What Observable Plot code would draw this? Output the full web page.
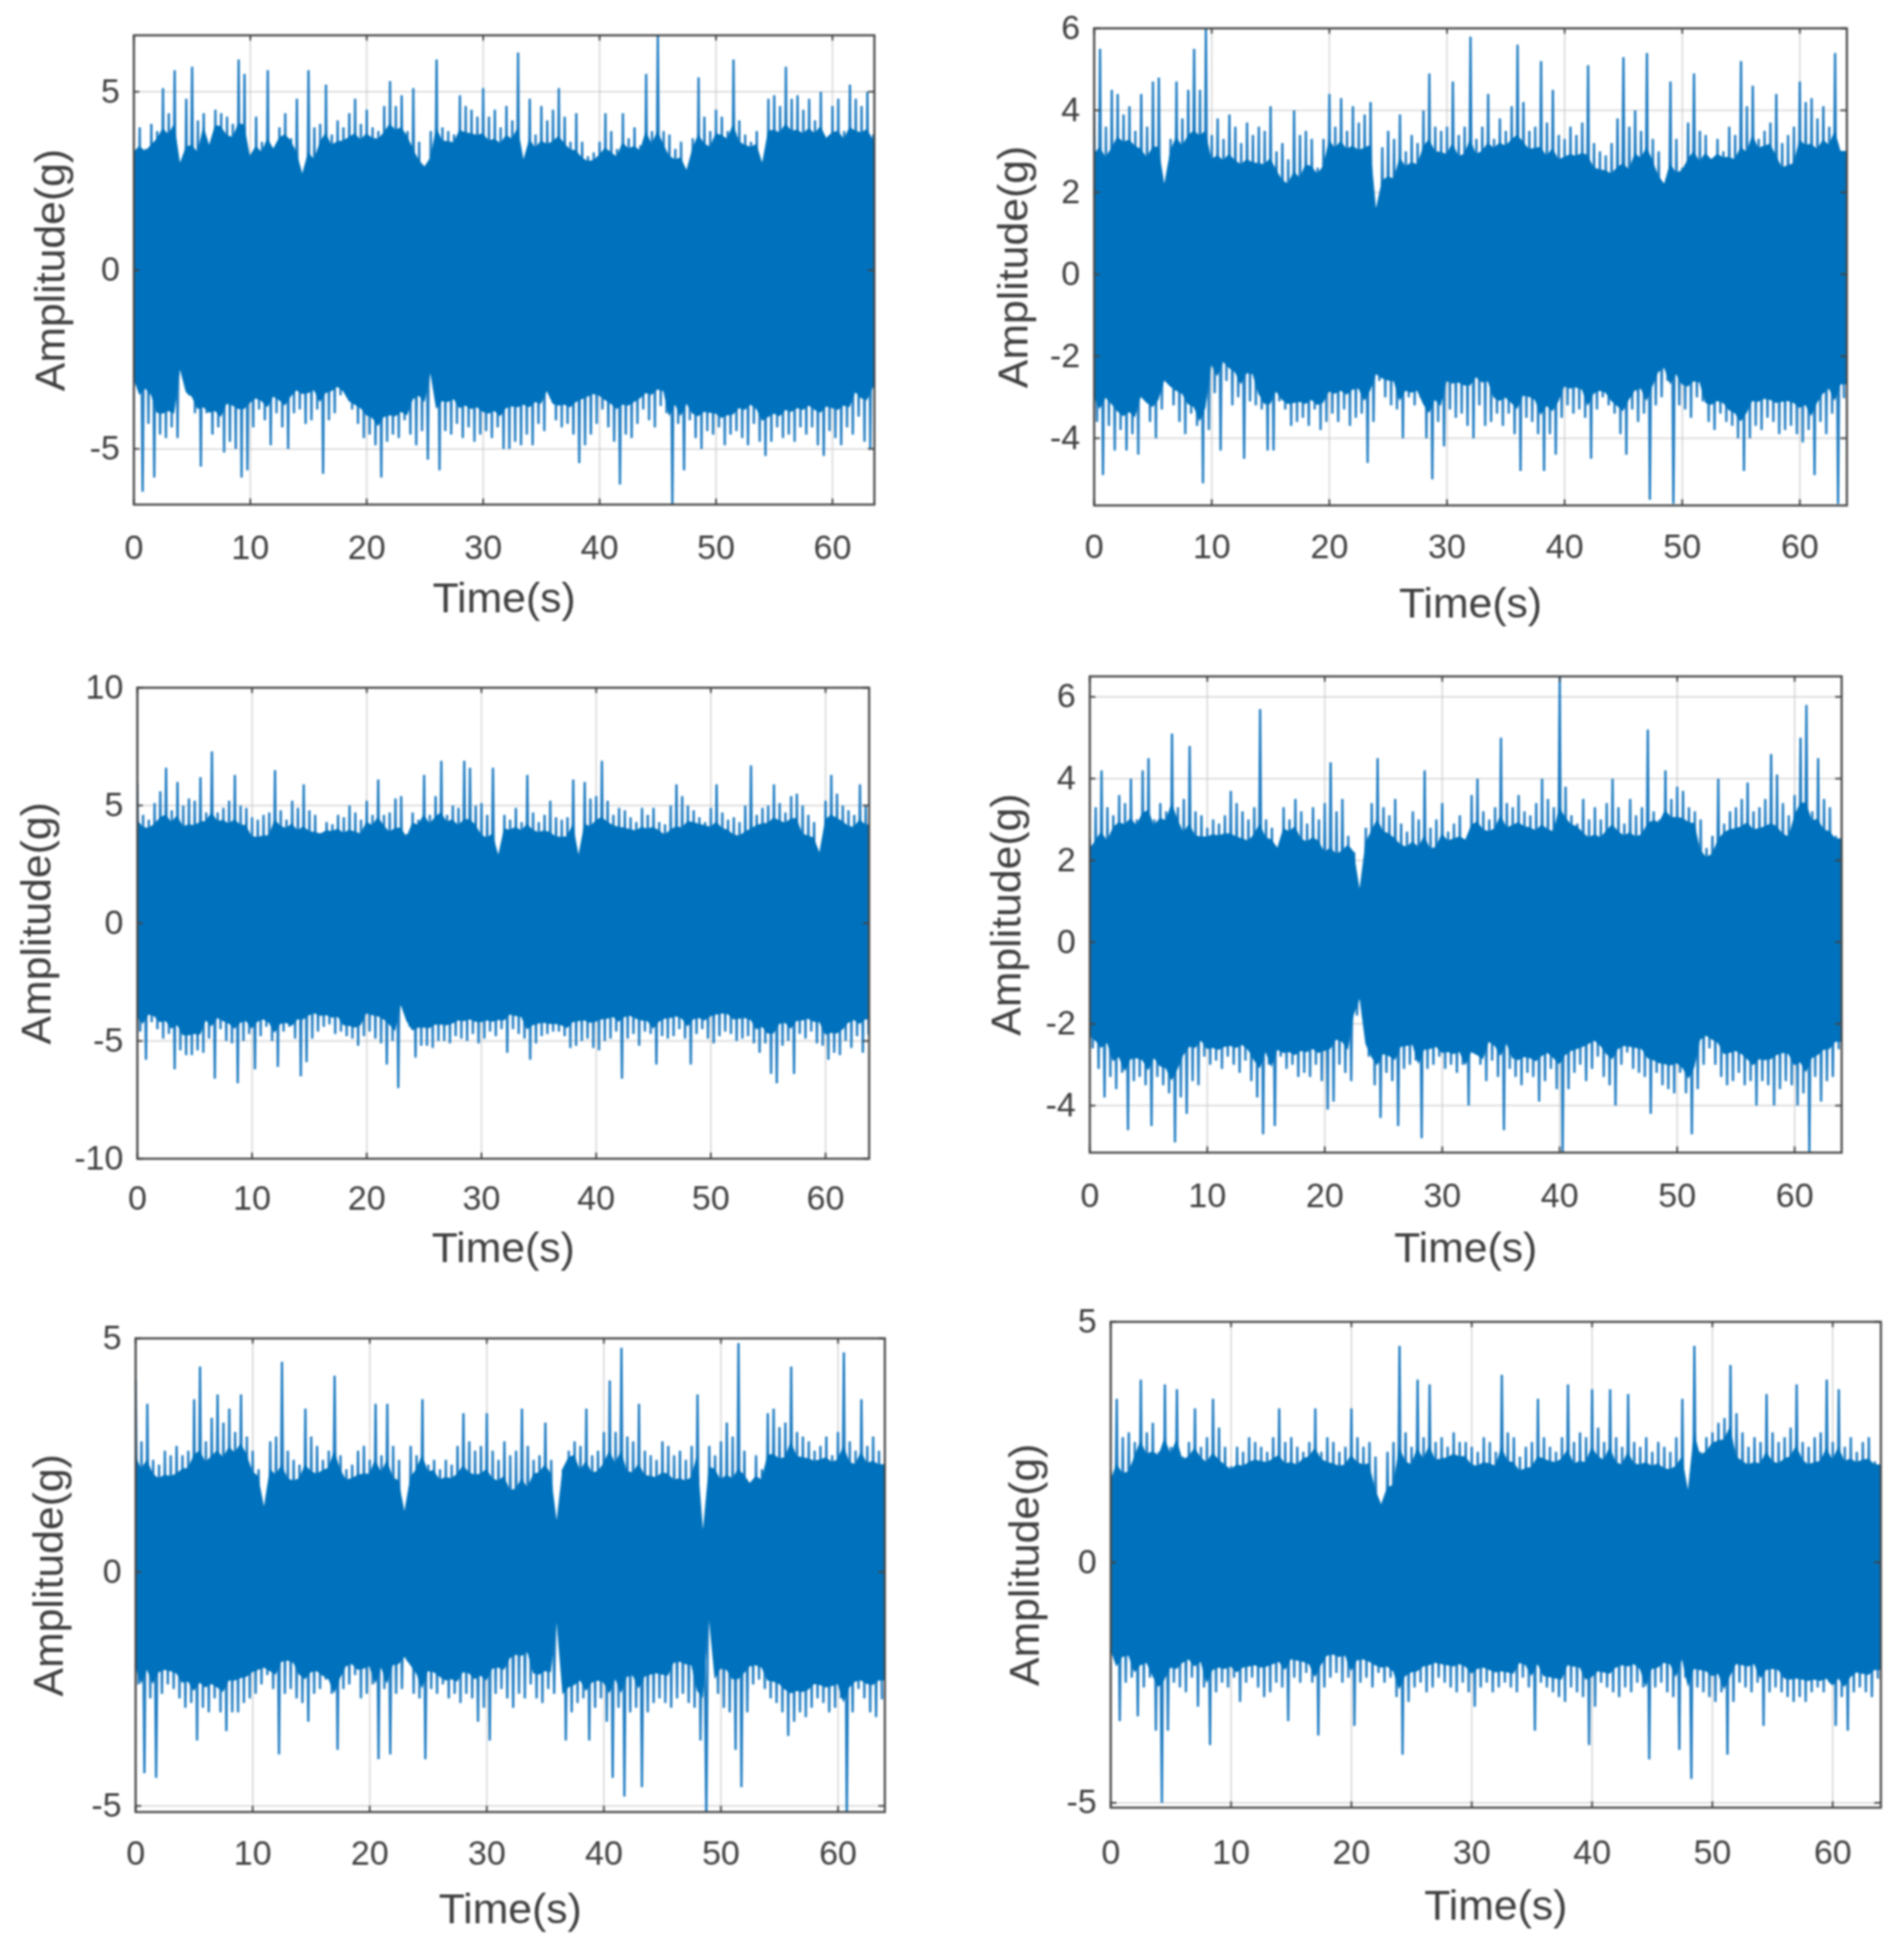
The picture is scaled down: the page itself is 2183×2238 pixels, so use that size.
<!DOCTYPE html>
<html><head><meta charset="utf-8">
<script src="https://cdn.jsdelivr.net/npm/d3@7"></script>
<script src="https://cdn.jsdelivr.net/npm/@observablehq/plot@0.6"></script>
<style>
html,body{margin:0;padding:0;background:#fff;}
#page{position:relative;width:2183px;height:2238px;overflow:hidden;}
#page svg{position:absolute;overflow:visible;filter:blur(0.8px);}
</style></head><body><div id="page"></div>
<script>
// Peak values, one every 0.5 s
const peaksUp1=[3.3,4.0,3.4,4.1,3.9,5.1,4.4,5.6,3.0,4.8,5.7,4.2,4.4,3.5,4.5,4.4,4.3,4.1,5.9,5.5,
3.2,4.3,3.6,5.6,3.4,4.0,4.4,3.7,4.8,2.7,5.6,4.0,4.1,5.2,3.8,4.2,4.0,4.4,4.8,4.1,
4.5,4.0,3.9,4.6,5.3,4.6,4.9,3.9,5.1,3.6,2.9,3.9,5.9,4.0,3.9,3.8,4.9,4.6,4.5,4.3,
5.1,4.3,4.5,4.0,4.6,4.2,6.1,3.1,4.8,3.8,4.6,4.2,4.5,5.1,4.3,3.6,4.4,3.6,3.2,3.3,
3.6,4.4,3.9,3.4,4.4,3.7,4.0,3.5,5.5,3.9,6.6,3.9,3.8,3.4,3.6,2.8,3.7,5.4,4.3,3.9,
4.5,4.3,3.9,5.9,4.2,3.8,3.6,3.9,3.0,4.8,4.9,4.6,5.7,4.8,4.9,4.5,4.8,4.2,5.0,3.7,
4.6,4.8,3.9,5.2,4.8,4.6,5.0,3.8];
const peaksDown1=[-3.2,-6.2,-4.3,-5.8,-4.6,-4.7,-4.4,-4.7,-2.8,-3.5,-4.0,-5.5,-4.0,-4.6,-4.4,-5.1,-4.8,-5.0,-5.8,-5.6,
-4.4,-3.9,-4.2,-4.9,-4.0,-4.4,-5.0,-4.0,-3.9,-4.3,-4.2,-3.9,-5.7,-4.2,-4.0,-3.5,-3.4,-3.9,-4.3,-4.7,
-4.6,-4.9,-5.8,-4.8,-4.6,-4.7,-4.2,-4.6,-4.9,-4.5,-5.3,-2.9,-5.6,-4.5,-4.6,-4.3,-4.7,-4.4,-4.8,-4.6,
-4.5,-4.7,-4.4,-5.0,-5.0,-4.8,-4.9,-4.6,-4.9,-4.3,-4.5,-3.4,-4.2,-4.4,-4.3,-4.6,-5.4,-4.9,-4.6,-4.3,
-3.9,-4.4,-4.8,-6.0,-4.6,-4.7,-4.3,-3.9,-4.2,-4.4,-3.8,-4.0,-6.6,-4.3,-5.6,-4.2,-4.7,-5.0,-4.5,-4.6,
-4.4,-4.9,-4.6,-4.5,-4.7,-4.9,-4.3,-4.8,-5.2,-4.8,-4.4,-4.7,-4.6,-4.8,-4.4,-4.6,-4.4,-4.9,-5.2,-4.5,
-4.7,-4.9,-4.4,-4.6,-4.1,-4.8,-5.0,-3.6];
const peaksUp2=[3.9,5.5,3.6,4.5,4.4,3.9,4.1,3.5,4.4,3.6,4.7,4.8,2.2,3.3,4.7,3.8,4.5,5.5,4.5,6.0,
3.4,3.8,3.3,3.9,3.6,3.2,3.7,3.4,3.6,3.5,4.1,3.0,3.2,2.8,4.0,3.4,3.5,3.3,2.6,3.3,
4.4,3.6,4.3,3.5,4.1,3.7,3.9,4.2,1.6,3.1,3.5,3.3,3.9,3.0,3.4,3.2,4.0,4.9,3.6,3.5,
3.6,4.7,3.4,3.6,5.8,3.3,3.6,4.4,3.3,3.8,3.5,4.1,5.6,4.2,3.5,3.6,5.2,3.7,4.5,3.4,
3.3,3.6,3.4,3.7,5.1,3.2,3.0,2.9,3.2,3.8,5.3,3.6,4.0,3.5,5.4,3.3,3.0,2.2,4.7,3.3,
2.6,3.7,4.9,3.5,3.4,2.8,3.3,3.0,3.6,3.4,5.2,4.1,4.6,3.3,3.5,3.7,4.4,3.2,3.4,3.6,
4.7,4.2,4.3,3.8,4.1,3.6,5.4,3.0];
const peaksDown2=[-3.6,-4.9,-3.7,-4.3,-3.8,-4.3,-3.9,-4.4,-3.0,-3.6,-4.0,-3.3,-2.6,-3.2,-3.6,-3.9,-3.4,-3.7,-5.1,-3.8,
-2.9,-4.3,-2.6,-3.2,-3.0,-4.5,-3.1,-3.2,-3.3,-4.3,-4.3,-3.1,-3.3,-3.7,-3.6,-3.5,-3.7,-3.3,-3.8,-3.6,
-3.4,-3.6,-3.3,-3.7,-3.5,-3.4,-4.6,-3.6,-2.6,-3.0,-3.2,-3.3,-4.0,-3.0,-3.2,-3.0,-4.0,-5.0,-3.6,-4.2,
-3.3,-3.5,-3.4,-3.7,-4.0,-3.2,-3.7,-3.6,-3.4,-3.7,-3.4,-3.9,-4.8,-3.5,-3.6,-3.9,-4.8,-3.9,-4.4,-3.5,
-3.2,-3.4,-3.3,-3.5,-4.5,-3.3,-3.0,-3.2,-3.4,-3.9,-4.4,-3.3,-3.6,-3.4,-5.5,-3.2,-3.0,-2.6,-5.6,-3.2,
-3.3,-3.5,-3.0,-3.1,-3.6,-3.8,-3.4,-3.6,-3.7,-4.0,-4.8,-4.0,-3.7,-3.8,-3.5,-3.6,-3.9,-3.8,-3.7,-3.9,
-4.1,-3.8,-4.9,-3.6,-3.9,-3.4,-5.6,-3.0];
const peaksUp3=[5.9,4.6,4.4,5.1,5.6,6.6,4.8,6.0,5.0,5.3,5.2,6.2,4.7,7.3,4.7,4.9,5.2,6.3,5.0,4.9,
4.5,4.4,4.6,4.7,6.5,4.8,4.4,5.2,4.9,5.9,4.8,4.6,3.8,4.3,4.2,4.6,4.5,5.0,4.7,4.4,
5.2,4.6,6.1,4.6,4.7,5.3,5.4,3.8,4.7,4.4,6.3,4.6,5.4,6.9,4.6,5.0,4.9,6.9,6.6,5.0,
5.1,4.6,6.6,2.9,4.6,4.4,4.9,4.3,6.3,4.7,4.3,4.6,5.2,4.5,4.4,4.5,6.1,2.9,6.0,5.3,
5.4,6.9,5.2,4.6,4.9,4.8,4.5,4.3,4.9,4.6,4.9,4.3,4.2,5.0,5.9,5.4,5.0,4.8,4.5,4.3,
4.9,5.9,4.7,4.4,4.5,4.3,5.0,6.7,4.6,4.9,5.0,5.9,5.1,4.7,5.4,5.5,5.0,4.6,4.3,3.0,
5.2,6.3,5.5,5.0,4.8,4.6,5.9,5.0];
const peaksDown3=[-4.6,-5.8,-4.2,-4.5,-4.9,-4.7,-6.2,-5.4,-5.6,-5.6,-5.4,-5.5,-4.9,-6.6,-4.5,-5.0,-5.1,-6.8,-5.0,-4.7,
-6.2,-4.8,-4.4,-5.0,-6.1,-4.6,-4.4,-4.9,-6.5,-5.9,-4.9,-4.6,-4.4,-4.3,-4.7,-4.6,-4.8,-4.9,-5.2,-4.8,
-4.6,-4.9,-5.1,-6.0,-5.0,-7.0,-3.5,-4.4,-5.7,-5.2,-5.2,-5.3,-5.0,-5.0,-5.1,-4.8,-4.9,-5.0,-4.7,-5.1,
-4.9,-4.6,-4.8,-4.5,-5.5,-4.5,-4.7,-4.9,-5.8,-5.1,-4.8,-4.7,-4.6,-4.6,-4.8,-5.3,-5.2,-5.0,-4.9,-5.3,
-5.4,-5.0,-4.9,-4.6,-6.6,-4.9,-4.7,-5.2,-4.6,-4.7,-6.0,-4.8,-4.9,-4.8,-4.5,-4.9,-6.0,-4.7,-4.5,-4.9,
-5.1,-4.8,-4.6,-4.7,-5.0,-4.9,-4.8,-5.1,-5.5,-5.1,-6.4,-6.8,-5.2,-5.0,-6.4,-4.7,-4.9,-4.6,-5.1,-5.2,
-5.8,-5.5,-5.6,-5.0,-5.3,-4.8,-5.5,-4.7];
const peaksUp4=[2.5,3.3,4.2,3.3,3.1,3.6,3.4,4.0,3.0,4.2,4.5,3.0,3.4,3.2,5.1,3.3,3.5,4.8,3.2,3.1,
2.8,3.0,2.9,3.1,3.7,3.4,3.2,3.0,3.3,5.7,3.0,2.8,2.3,3.3,3.0,3.5,3.2,2.9,3.3,3.0,
3.4,4.4,3.2,3.5,2.6,2.2,1.3,2.8,3.4,4.5,3.3,3.1,3.5,2.9,2.7,3.2,3.0,4.2,2.8,3.0,
3.4,2.7,2.9,3.1,2.5,3.6,4.0,3.2,3.0,3.3,5.0,3.4,3.3,3.6,3.2,3.1,3.4,4.0,3.5,3.3,
6.5,3.8,3.1,2.9,3.5,3.0,3.3,3.0,3.4,4.0,3.3,2.9,3.5,3.1,3.3,5.2,3.2,3.0,4.2,3.5,
3.8,3.7,3.3,3.2,3.0,2.3,2.6,4.0,2.9,3.2,3.3,3.5,3.9,3.2,3.3,3.5,4.6,4.1,3.4,3.1,
3.6,5.0,5.8,3.2,4.5,3.5,3.3,2.6];
const peaksDown4=[-2.6,-3.1,-3.8,-3.3,-3.6,-3.2,-4.6,-3.4,-3.3,-3.5,-4.5,-3.3,-3.5,-3.7,-4.9,-3.8,-4.2,-3.4,-3.5,-2.8,
-3.0,-2.9,-3.1,-2.8,-3.0,-3.2,-2.9,-3.4,-3.8,-4.7,-3.0,-4.5,-2.8,-3.1,-3.0,-3.3,-3.2,-3.3,-3.0,-3.4,
-4.1,-3.9,-3.0,-3.2,-3.4,-1.8,-1.4,-2.8,-3.5,-4.3,-3.2,-3.4,-4.5,-3.1,-3.0,-2.9,-4.8,-3.1,-3.0,-2.8,
-3.1,-3.0,-3.2,-3.0,-4.0,-2.7,-3.0,-3.4,-2.9,-3.3,-4.6,-3.1,-3.3,-3.5,-3.2,-3.3,-3.9,-3.4,-3.1,-3.6,
-5.2,-3.6,-3.2,-3.0,-3.4,-3.1,-2.8,-3.3,-3.5,-4.0,-3.0,-2.7,-3.1,-3.2,-3.3,-4.2,-3.2,-3.5,-3.6,-3.7,
-3.2,-3.7,-4.7,-3.6,-3.0,-2.6,-3.0,-3.3,-3.5,-3.4,-3.2,-3.5,-3.4,-4.0,-3.4,-3.5,-4.0,-3.6,-3.4,-3.5,
-4.0,-3.7,-5.2,-3.3,-3.9,-3.4,-3.3,-2.6];
const peaksUp5=[4.1,2.8,3.6,2.4,2.3,2.6,2.5,2.7,2.5,2.6,3.7,4.4,2.8,3.3,3.8,3.2,3.5,3.0,3.8,2.9,
2.6,2.2,1.4,2.8,2.9,4.5,2.6,2.4,2.3,3.5,2.9,2.7,2.4,2.6,4.2,2.5,2.2,2.3,2.6,2.7,
2.4,3.6,2.5,3.6,2.7,2.4,1.3,2.7,2.5,3.7,2.3,2.4,2.2,2.4,2.3,2.7,3.4,2.8,2.6,2.7,
3.4,2.6,2.4,2.8,2.5,2.6,3.5,2.7,2.4,2.5,3.2,2.4,1.1,2.2,2.6,2.8,2.7,3.5,2.5,2.6,
3.0,4.1,3.0,4.8,2.9,2.8,3.6,2.6,2.5,2.4,2.8,2.7,2.5,2.6,2.4,2.7,3.8,0.9,2.7,2.5,
2.8,3.2,2.9,4.9,2.6,1.9,2.5,2.2,3.4,3.5,3.1,3.2,4.4,3.0,2.9,2.8,2.6,2.7,2.9,2.5,
3.0,4.7,2.8,2.6,3.7,2.7,2.9,2.6];
const peaksDown5=[-2.4,-4.3,-2.7,-4.4,-2.6,-2.4,-2.5,-2.7,-2.9,-2.8,-3.6,-2.9,-3.0,-2.7,-3.0,-3.4,-3.0,-3.0,-2.8,-2.7,
-2.6,-2.4,-2.2,-2.5,-3.9,-2.6,-2.5,-2.7,-2.8,-3.2,-2.6,-2.5,-2.3,-2.6,-3.8,-2.5,-2.4,-2.2,-2.7,-2.6,
-2.4,-4.0,-2.5,-3.9,-2.6,-2.5,-1.9,-2.6,-2.7,-4.0,-2.5,-2.6,-2.4,-2.7,-2.6,-2.8,-2.6,-2.7,-3.2,-2.9,
-3.6,-2.6,-2.5,-2.7,-2.9,-2.6,-2.7,-2.4,-2.7,-2.8,-2.5,-2.6,-1.1,-3.6,-3.0,-2.8,-2.7,-3.6,-2.9,-2.7,
-3.2,-4.4,-2.9,-4.8,-3.0,-2.9,-4.6,-3.0,-2.8,-2.7,-2.8,-2.9,-2.7,-2.6,-2.8,-2.9,-3.6,-5.3,-1.0,-2.6,
-2.9,-3.0,-3.8,-4.6,-3.0,-2.4,-2.3,-2.5,-2.7,-2.8,-3.0,-3.5,-3.2,-3.0,-3.1,-2.9,-2.7,-2.8,-3.0,-2.9,
-2.7,-5.3,-3.0,-2.5,-2.7,-3.0,-3.1,-2.7];
const peaksUp6=[1.9,3.4,2.6,2.7,2.5,3.8,2.7,2.9,2.3,3.7,2.4,3.6,2.2,2.5,3.2,2.4,2.6,3.4,2.8,2.4,
2.0,2.4,2.3,2.6,2.5,2.4,2.3,2.6,3.2,2.5,2.6,2.4,2.3,2.5,3.2,2.3,2.6,2.5,2.3,2.4,
3.2,2.6,2.4,2.5,2.2,1.2,2.3,2.5,4.5,2.7,2.4,3.8,2.6,3.7,2.5,2.6,2.4,2.7,2.5,2.5,
2.4,2.3,2.6,2.5,2.3,3.9,2.7,2.6,2.2,2.4,2.5,3.4,2.6,2.4,2.3,2.6,3.7,2.5,2.7,2.6,
3.6,2.8,2.5,3.6,2.6,2.4,3.5,2.5,2.4,2.6,2.3,2.5,2.4,2.3,2.6,3.4,1.5,4.5,2.3,2.6,
2.7,2.9,3.0,4.1,3.1,2.7,2.4,2.6,2.5,3.5,2.7,2.5,2.6,2.8,3.7,2.5,2.4,2.6,2.7,3.8,
2.5,3.6,2.4,2.6,2.3,2.5,2.6,2.1];
const peaksDown6=[-1.9,-3.3,-2.5,-2.4,-3.2,-2.6,-2.4,-3.5,-5.0,-3.5,-2.5,-2.6,-2.7,-2.4,-3.0,-2.6,-3.8,-2.7,-2.5,-2.6,
-2.4,-2.9,-2.5,-2.4,-2.6,-2.8,-2.7,-2.5,-2.6,-3.3,-2.4,-2.5,-2.3,-2.5,-3.6,-2.6,-2.4,-2.3,-2.5,-2.4,
-3.4,-2.5,-2.4,-2.6,-2.3,-2.5,-2.4,-2.8,-4.0,-2.9,-2.6,-2.5,-2.7,-2.6,-2.4,-2.5,-2.6,-2.7,-2.5,-2.7,
-3.0,-2.6,-2.5,-2.7,-2.6,-2.5,-2.6,-2.7,-2.4,-2.6,-3.5,-2.5,-2.6,-2.7,-2.8,-2.9,-2.6,-2.7,-2.8,-3.8,
-3.0,-2.5,-2.6,-2.7,-2.8,-2.6,-2.7,-2.5,-2.6,-4.1,-2.6,-2.5,-2.7,-2.8,-3.9,-2.4,-4.5,-2.6,-2.7,-2.8,
-2.9,-2.7,-4.0,-2.9,-2.5,-2.6,-2.7,-2.5,-3.4,-2.7,-2.6,-2.7,-2.8,-2.9,-2.8,-2.9,-2.7,-2.6,-2.7,-2.5,
-3.4,-2.8,-3.5,-2.7,-2.6,-2.7,-2.8,-2.4];

// Top of the solid body of each trace, one value every 2 s
const bodyUp1=[3.3,3.6,3.0,3.9,3.6,3.2,3.6,2.8,3.4,3.5,3.6,3.7,2.9,3.5,3.6,3.4,3.5,3.3,3.3,3.0,3.1,3.3,3.4,3.0,3.3,3.6,3.4,3.6,3.6,3.7,3.6,3.6];
const bodyDown1=[-3.0,-3.8,-3.4,-3.8,-3.4,-3.5,-3.4,-3.2,-3.2,-3.6,-3.9,-3.9,-3.2,-3.4,-3.6,-3.8,-3.5,-3.5,-3.6,-3.2,-3.4,-3.5,-3.2,-3.6,-3.8,-3.9,-3.6,-3.9,-3.7,-3.6,-3.6,-3.2];
const bodyUp2=[2.6,3.0,2.6,2.9,3.0,2.6,2.5,2.4,2.0,2.4,2.9,2.8,2.0,2.5,2.8,2.7,2.8,3.0,2.9,2.6,2.7,2.4,2.2,2.6,2.2,2.5,2.8,2.6,3.0,2.4,2.8,3.0];
const bodyDown2=[-2.8,-3.2,-3.0,-2.6,-3.1,-2.0,-2.2,-2.8,-3.0,-3.0,-2.7,-2.6,-2.4,-2.8,-2.9,-2.4,-2.3,-2.9,-2.8,-3.0,-2.6,-2.8,-3.0,-2.6,-2.2,-2.5,-3.0,-3.2,-2.9,-2.9,-3.0,-2.6];
const bodyUp3=[3.9,4.1,3.8,4.2,3.9,3.4,3.9,3.6,3.8,3.6,4.0,3.6,4.1,4.2,3.9,3.3,3.8,3.7,3.4,3.7,4.0,3.8,3.8,3.6,4.1,3.8,3.5,4.0,4.1,3.4,4.1,3.9];
const bodyDown3=[-3.8,-4.0,-4.5,-3.9,-4.0,-4.0,-4.2,-3.6,-3.8,-4.2,-3.6,-4.1,-4.2,-4.1,-3.9,-4.0,-3.7,-4.1,-4.2,-3.9,-3.8,-3.7,-4.0,-3.8,-3.9,-3.6,-3.8,-4.2,-4.0,-3.9,-4.4,-3.9];
const bodyUp4=[2.2,2.7,2.8,2.9,2.4,2.5,2.3,2.4,2.6,2.3,1.8,2.3,2.5,2.2,2.1,2.4,2.6,2.6,2.7,2.5,2.8,2.4,2.5,2.4,2.9,2.8,2.0,2.6,2.6,2.4,2.9,2.5];
const bodyDown4=[-2.2,-2.7,-2.7,-2.9,-2.3,-2.5,-2.4,-2.6,-2.6,-2.5,-2.2,-2.4,-2.6,-2.4,-2.5,-2.6,-2.7,-2.3,-2.7,-2.6,-2.5,-2.3,-2.5,-2.4,-2.8,-2.9,-2.2,-2.5,-2.7,-2.5,-2.7,-2.4];
const bodyUp5=[2.0,1.9,2.1,2.2,2.4,2.0,1.8,1.9,2.1,1.9,2.0,1.8,2.1,1.9,1.9,1.8,1.5,2.0,2.4,2.0,2.1,1.9,1.9,1.8,2.1,1.7,1.9,2.2,2.3,2.3,2.2,2.2];
const bodyDown5=[-1.9,-2.0,-2.2,-2.3,-2.1,-2.0,-1.7,-2.0,-2.2,-1.9,-1.9,-1.8,-2.0,-2.2,-2.0,-1.9,-1.5,-2.0,-2.3,-2.2,-2.1,-2.0,-2.0,-1.7,-2.2,-1.8,-1.9,-2.2,-2.4,-2.3,-2.3,-2.2];
const bodyUp6=[1.6,2.1,2.2,2.1,1.9,1.9,2.0,1.9,2.1,1.9,1.9,1.3,1.9,2.0,2.1,1.9,1.9,1.8,2.0,1.9,2.0,1.9,1.9,1.8,2.2,2.4,1.9,1.9,2.0,1.9,2.0,2.0];
const bodyDown6=[-1.8,-2.0,-2.1,-1.9,-2.1,-2.1,-2.0,-1.9,-2.0,-1.8,-1.9,-2.1,-2.2,-2.0,-2.0,-2.1,-2.2,-2.0,-2.3,-2.0,-2.2,-2.0,-2.1,-1.9,-2.1,-2.2,-2.0,-2.1,-2.3,-2.4,-2.3,-2.2];

const timeTicks=[0,10,20,30,40,50,60];
const ampTicks1=[-5,0,5], ampTicks2=[-4,-2,0,2,4,6], ampTicks3=[-10,-5,0,5,10], ampTicks4=[-4,-2,0,2,4,6], ampTicks5=[-5,0,5], ampTicks6=[-5,0,5];
const xLabel="Time(s)", yLabel="Amplitude(g)";
const peakStep=0.5, bodyStep=2;

const panels=[
 {up:peaksUp1,down:peaksDown1,bu:bodyUp1,bd:bodyDown1,ticks:ampTicks1,dom:[-6.56,6.58],xMax:63.6,l:153,r:1002,t:40,b:578,yl:-95,xl:123,tp:54},
 {up:peaksUp2,down:peaksDown2,bu:bodyUp2,bd:bodyDown2,ticks:ampTicks2,dom:[-5.64,6],xMax:64,l:1254,r:2117,t:32,b:579,yl:-92,xl:128,tp:52},
 {up:peaksUp3,down:peaksDown3,bu:bodyUp3,bd:bodyDown3,ticks:ampTicks3,dom:[-10,10],xMax:63.8,l:157,r:996,t:788,b:1328,yl:-115,xl:118,tp:50},
 {up:peaksUp4,down:peaksDown4,bu:bodyUp4,bd:bodyDown4,ticks:ampTicks4,dom:[-5.15,6.5],xMax:64,l:1249,r:2111,t:775,b:1321,yl:-95,xl:125,tp:54},
 {up:peaksUp5,down:peaksDown5,bu:bodyUp5,bd:bodyDown5,ticks:ampTicks5,dom:[-5.13,5],xMax:64,l:155,r:1014,t:1534,b:2077,yl:-99,xl:127,tp:52},
 {up:peaksUp6,down:peaksDown6,bu:bodyUp6,bd:bodyDown6,ticks:ampTicks6,dom:[-5.1,5],xMax:64,l:1273,r:2156,t:1515,b:2072,yl:-98,xl:128,tp:56}
];
const font='"Liberation Sans",Arial,sans-serif', ink="#404040", blue="#0072BD", ml=140, mr=16, mt=12, mb=150;
const page=document.getElementById("page");
for(const p of panels){
  const n=p.up.length;
  // the trace as one zigzag line (peak up, then peak down half a step later)
  const trace=[];
  p.up.forEach((u,i)=>{trace.push({t:i*peakStep,v:u});trace.push({t:i*peakStep+peakStep/2,v:p.down[i]});});
  // jagged edge of the solid body: the peaks, pulled in toward the body level
  const edge=p.up.map((u,i)=>{
    const k=Math.floor(i*peakStep/bodyStep), d=p.down[i], bu=p.bu[k], bd=p.bd[k];
    return {t:i*peakStep,
      eu:u<bu?u:bu+0.25*Math.min(u-bu,2),
      ed:d>bd?d:bd-0.25*Math.min(bd-d,2)};
  });
  edge.push({t:p.xMax,eu:edge[n-1].eu,ed:edge[n-1].ed});
  const span=p.dom[1]-p.dom[0], tick=span*0.012, xt=p.xMax*0.008;
  const fig=Plot.plot({
    width:p.r-p.l+ml+mr,height:p.b-p.t+mt+mb,
    marginLeft:ml,marginRight:mr,marginTop:mt,marginBottom:mb,
    style:{fontFamily:font,background:"transparent",overflow:"visible"},
    x:{domain:[0,p.xMax]},y:{domain:p.dom},
    marks:[
      Plot.gridX(timeTicks,{stroke:"#c8c8c8",strokeOpacity:0.8,strokeWidth:1.5}),
      Plot.gridY(p.ticks.filter(v=>v>p.dom[0]&&v<p.dom[1]),{stroke:"#c8c8c8",strokeOpacity:0.8,strokeWidth:1.5}),
      Plot.line(trace,{x:"t",y:"v",stroke:"#1f7cc2",strokeWidth:2.6,strokeLinejoin:"miter",strokeMiterlimit:2,clip:true}),
      Plot.areaY(edge,{x:"t",y1:"ed",y2:"eu",fill:blue,clip:true}),
      Plot.frame({stroke:"#454545",strokeWidth:2.4}),
      Plot.axisX({ticks:timeTicks,tickSize:0,tickPadding:p.tp-19,fontSize:39,label:null,color:ink,tickFormat:d=>String(d)}),
      Plot.axisY({ticks:p.ticks,tickSize:0,tickPadding:16,fontSize:39,label:null,color:ink,tickFormat:d=>String(d)}),
      Plot.ruleX(timeTicks,{y1:p.dom[1],y2:p.dom[1]-tick,stroke:"#454545",strokeWidth:2}),
      Plot.ruleX(timeTicks,{y1:p.dom[0],y2:p.dom[0]+tick,stroke:"#454545",strokeWidth:2}),
      Plot.ruleY(p.ticks,{x1:0,x2:xt,stroke:"#454545",strokeWidth:2}),
      Plot.ruleY(p.ticks,{x1:p.xMax,x2:p.xMax-xt,stroke:"#454545",strokeWidth:2}),
      Plot.text([xLabel],{frameAnchor:"bottom",dy:p.xl,fontSize:49,fill:ink}),
      Plot.text([yLabel],{frameAnchor:"left",textAnchor:"middle",dx:p.yl,rotate:-90,fontSize:49,fill:ink})
    ]
  });
  fig.style.left=(p.l-ml)+"px";
  fig.style.top=(p.t-mt)+"px";
  page.appendChild(fig);
}
</script></body></html>
